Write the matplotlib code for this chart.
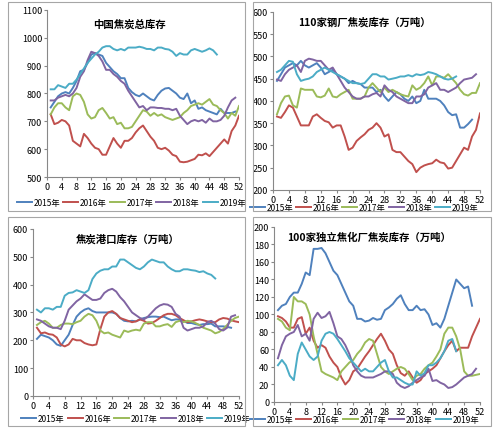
import matplotlib.pyplot as plt
from matplotlib.patches import Rectangle

plt.rcParams['font.family'] = ['Noto Sans CJK SC', 'DejaVu Sans']

years = ['2015年', '2016年', '2017年', '2018年', '2019年']
colors = ['#4F81BD', '#C0504D', '#9BBB59', '#8064A2', '#4BACC6']

# 中国焦炭总库存
total_2015 = [750, 770, 790, 800, 805, 800, 820, 845, 880, 885, 910, 940, 945, 940, 935, 910, 895, 880, 870, 855,
              855, 820, 805, 795, 790, 800, 790, 780, 775, 795, 810, 818, 820, 810, 800, 785, 780, 800, 765, 775,
              745, 750, 740, 735, 730, 725, 745, 730, 730, 730, 735]
total_2016 = [725, 690, 695, 705, 700, 685, 630, 620, 610, 655, 640, 620, 605, 600, 580, 580, 610, 640, 620, 605,
              630, 630, 640, 660, 675, 685, 665, 645, 630, 605, 600, 605, 595, 580, 575, 555, 553, 555, 560, 565,
              580, 578, 585, 575, 590, 605, 620, 635, 620, 665, 685, 720]
total_2017 = [725, 750, 765, 765, 750, 740, 790, 800, 795, 770, 725, 710, 715, 740, 748, 730, 710, 715, 690, 695,
              675, 675, 680, 700, 720, 740, 735, 720, 730, 720, 725, 715, 710, 705, 710, 715, 730, 740, 755, 760,
              765, 760, 770, 780, 760, 755, 740, 730, 710, 730, 720, 755]
total_2018 = [775, 775, 785, 790, 795, 790, 800, 820, 860, 880, 920, 950, 945, 935, 915, 885, 885, 870, 860, 845,
              835, 810, 790, 770, 750, 755, 740, 750, 750, 748, 748, 745, 745, 740, 745, 720, 705, 690, 700, 705,
              700, 705, 695, 710, 700, 700, 705, 720, 750, 775, 785]
total_2019 = [815, 815, 830, 825, 820, 835, 835, 850, 870, 890, 910, 925, 940, 950, 965, 970, 970, 960, 955, 960,
              955, 965, 965, 965, 968, 965, 960, 960, 955, 965, 965, 960, 958, 950, 935, 945, 940, 940, 955, 960,
              955, 950, 955, 962, 955, 940]

# 110家钢厂焦炭库存
mill_2015 = [445, 460, 475, 480, 485, 480, 490, 480, 475, 480, 485, 475, 460, 465, 470, 460, 455, 450, 440, 445,
             440, 438, 430, 430, 430, 420, 425, 410, 400, 410, 420, 415, 405, 400, 410, 395, 400, 425, 405, 405,
             405, 400, 390, 375, 368, 370, 340, 340, 348, 358]
mill_2016 = [365, 362, 375, 390, 385, 365, 345, 345, 345, 365, 370, 362, 355, 352, 340, 345, 345, 320, 290, 295,
             310, 318, 325, 335, 340, 350, 340, 320, 325, 290, 285, 285, 275, 265, 258, 240, 250, 255, 258, 260,
             268, 262, 260, 248, 250, 265, 280, 295, 290, 320, 335, 372]
mill_2017 = [370, 395, 410, 412, 390, 385, 428, 425, 425, 425, 410, 408, 412, 428, 410, 408, 415, 420, 425, 405,
             405, 405, 410, 430, 440, 430, 420, 430, 420, 425, 420, 415, 412, 410, 435, 425, 430, 440, 455, 435,
             455, 455, 452, 460, 450, 440, 425, 415, 412, 418, 418, 440]
mill_2018 = [448, 445, 460, 470, 475, 480, 465, 490, 495, 493, 490, 490, 480, 470, 475, 460, 445, 430, 420, 410,
             405, 405, 410, 410, 415, 418, 410, 435, 425, 420, 410, 405, 400, 395, 395, 410, 410, 415, 430, 435,
             440, 425, 425, 420, 425, 430, 440, 448, 450, 452, 460]
mill_2019 = [465, 470, 480, 490, 488, 460, 445, 448, 450, 455, 465, 470, 475, 470, 465, 460, 455, 450, 445, 440,
             440, 438, 440, 450, 460, 460, 455, 455, 448, 450, 452, 455, 455, 458, 455, 460, 458, 460, 465, 463,
             460, 455, 450, 448, 450, 455]

# 焦炭港口库存
port_2015 = [205, 220, 215, 210, 200, 185, 180, 200, 220, 255, 285, 300, 310, 315, 305, 300, 300, 300, 300, 300,
             295, 280, 270, 268, 270, 268, 275, 280, 283, 285, 285, 283, 285, 278, 272, 275, 275, 270, 262, 262,
             258, 255, 258, 258, 260, 250, 250, 250, 248, 245]
port_2016 = [245, 225, 228, 222, 220, 210, 185, 178, 185, 205, 200, 200, 190, 185, 182, 185, 240, 285, 300, 305,
             295, 280, 275, 270, 265, 268, 275, 270, 260, 262, 270, 280, 290, 295, 295, 290, 280, 272, 265, 268,
             272, 275, 272, 268, 265, 265, 275, 280, 278, 272, 268, 265]
port_2017 = [255, 265, 270, 260, 245, 245, 255, 260, 260, 258, 265, 270, 285, 295, 290, 270, 235, 225, 228, 220,
             215, 210, 235, 230, 235, 238, 235, 260, 265, 265, 250, 250, 255, 258, 248, 265, 270, 265, 270, 268,
             262, 255, 245, 240, 235, 225, 230, 240, 255, 270, 280, 285]
port_2018 = [275, 270, 260, 250, 245, 245, 240, 270, 310, 325, 340, 350, 365, 355, 345, 345, 350, 370, 380, 385,
             375, 355, 340, 320, 300, 290, 280, 275, 285, 300, 315, 325, 330, 328, 320, 295, 285, 245, 235, 240,
             245, 245, 250, 265, 270, 260, 240, 235, 245, 285, 290]
port_2019 = [310, 300, 315, 315, 310, 320, 320, 360, 370, 372, 380, 375, 370, 380, 420, 440, 450, 455, 455, 465,
             465, 490, 490, 480, 470, 460, 455, 465, 480, 490, 485, 480, 480, 465, 455, 448, 448, 455, 455, 452,
             450, 445, 448, 440, 435, 422]

# 100家独立焦化厂焦炭库存
coke_2015 = [105, 110, 112, 120, 125, 125, 135, 148, 145, 175, 175, 176, 170, 160, 150, 145, 135, 125, 115, 110,
             95, 95, 92, 93, 96, 94, 95, 105, 108, 112, 118, 122, 112, 105, 105, 110, 105, 106, 100, 88,
             90, 85, 95, 110, 125, 140, 135, 130, 132, 110]
coke_2016 = [98, 96, 92, 85, 85, 95, 97, 78, 85, 70, 62, 65, 62, 52, 45, 40, 28, 20, 25, 35,
             38, 45, 52, 58, 65, 72, 78, 70, 60, 55, 42, 33, 30, 35, 28, 22, 25, 32, 35, 38,
             42, 50, 58, 65, 70, 58, 62, 62, 62, 75, 85, 95]
coke_2017 = [95, 92, 85, 82, 120, 115, 115, 112, 100, 75, 55, 35, 32, 30, 28, 25, 35, 40, 45, 48,
             55, 60, 68, 72, 70, 55, 40, 35, 32, 35, 38, 40, 38, 32, 25, 30, 32, 38, 42, 45,
             52, 60, 78, 85, 85, 75, 60, 35, 30, 30, 31, 32]
coke_2018 = [50, 65, 75, 78, 80, 88, 75, 78, 70, 95, 102, 96, 98, 103, 90, 75, 72, 65, 55, 42,
             35, 30, 28, 28, 28, 30, 32, 35, 35, 32, 22, 18, 16, 18, 22, 25, 28, 30, 38, 24,
             25, 22, 20, 16, 17, 20, 24, 28, 30, 32, 38]
coke_2019 = [42, 48, 42, 30, 25, 55, 68, 60, 52, 48, 52, 70, 78, 80, 78, 72, 65, 58, 50, 45,
             40, 35, 38, 35, 35, 40, 45, 48, 35, 28, 28, 25, 22, 20, 20, 35, 30, 33, 42, 42,
             45, 50, 58, 70, 72, 58]

panels = [
    ('中国焦炭总库存', [total_2015, total_2016, total_2017, total_2018, total_2019], (500, 1100, 100),
     [0.094, 0.587, 0.384, 0.3875], (0.43, 0.95), (8, 3, 245, 212), (0.44, -0.15)),
    ('110家钢厂焦炭库存（万吨）', [mill_2015, mill_2016, mill_2017, mill_2018, mill_2019], (200, 600, 50),
     [0.546, 0.557, 0.414, 0.413], (0.44, 0.975), (253, 3, 491, 212), (0.44, -0.1)),
    ('焦炭港口库存（万吨）', [port_2015, port_2016, port_2017, port_2018, port_2019], (0, 600, 100),
     [0.066, 0.079, 0.412, 0.3875], (0.46, 0.975), (8, 218, 245, 427), (0.5, -0.135)),
    ('100家独立焦化厂焦炭库存（万吨）', [coke_2015, coke_2016, coke_2017, coke_2018, coke_2019], (0, 200, 20),
     [0.548, 0.065, 0.412, 0.406], (0.46, 0.975), (253, 218, 491, 427), (0.44, -0.1)),
]

fig = plt.figure(figsize=(5.0, 4.31), dpi=100)

for title, series, (ymin, ymax, ystep), pos, tpos, box, lpos in panels:
    # 外框
    x0, y0, x1, y1 = box
    fig.patches.append(Rectangle((x0 / 500, 1 - y1 / 431), (x1 - x0) / 500, (y1 - y0) / 431,
                                 transform=fig.transFigure, fill=False, edgecolor='#A6A6A6', linewidth=0.8))
    ax = fig.add_axes(pos)
    for vals, lab, c in zip(series, years, colors):
        ax.plot(range(1, len(vals) + 1), vals, color=c, linewidth=1.4, label=lab)
    ax.set_xlim(0, 52)
    ax.set_ylim(ymin, ymax)
    ax.set_xticks(range(0, 53, 4))
    ax.set_yticks(range(ymin, ymax + 1, ystep))
    ax.tick_params(labelsize=6.5, length=2, color='#888888', pad=1.5)
    for s in ['top', 'right']:
        ax.spines[s].set_visible(False)
    for s in ['left', 'bottom']:
        ax.spines[s].set_color('#888888')
        ax.spines[s].set_linewidth(0.8)
    ax.text(tpos[0], tpos[1], title, transform=ax.transAxes, ha='center', va='top',
            fontsize=7.5, fontweight='bold')
    ax.legend(loc='center', bbox_to_anchor=lpos, ncol=5, frameon=False,
              fontsize=6, handlelength=1.8, columnspacing=0.35, handletextpad=0.2, borderaxespad=0,
              borderpad=0)

fig.savefig('out.png', dpi=100)
